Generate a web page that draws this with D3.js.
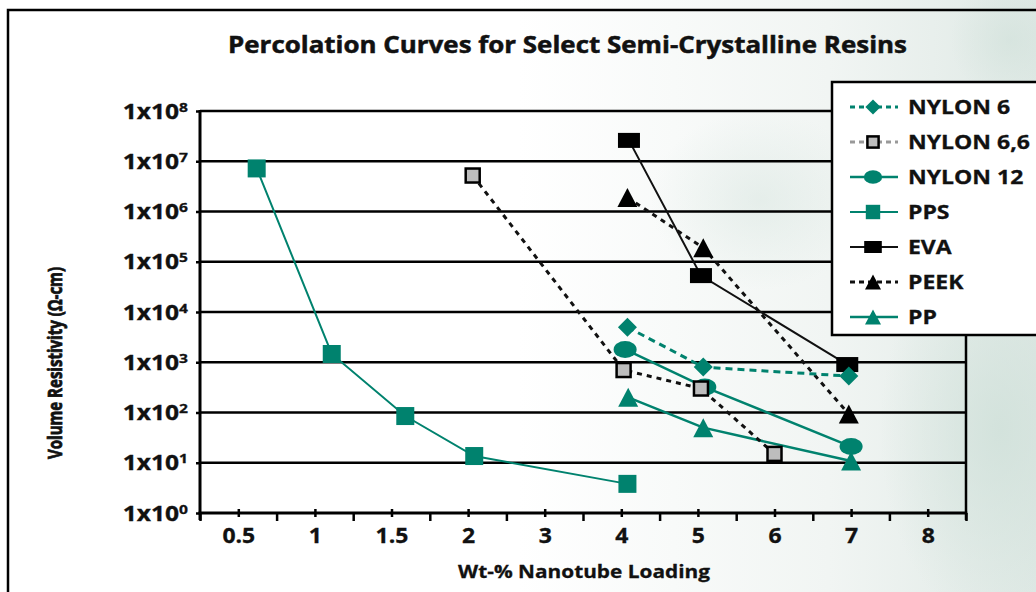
<!DOCTYPE html>
<html><head><meta charset="utf-8">
<script src="https://cdn.jsdelivr.net/npm/d3@7"></script>
<style>html,body{margin:0;padding:0;background:#fff;} svg{display:block;} text{font-family:"Open Sans",sans-serif;font-weight:700;fill:#111;}</style>
</head><body>
<svg id="chart" width="1036" height="592"></svg>
<script>
// ---------- DATA ----------
const titleText = "Percolation Curves for Select Semi-Crystalline Resins";
const xAxisTitle = "Wt-% Nanotube Loading";
const yAxisTitle = "Volume Resistivity (\u03A9-cm)";
const xTickValues = [0.5, 1, 1.5, 2, 3, 4, 5, 6, 7, 8];
const xTickLabels = ["0.5", "1", "1.5", "2", "3", "4", "5", "6", "7", "8"];
const yTickExponents = [0, 1, 2, 3, 4, 5, 6, 7, 8];

const seriesNames = ["NYLON 6", "NYLON 6,6", "NYLON 12", "PPS", "EVA", "PEEK", "PP"];

const nylon6X = [4.08, 5.07, 6.97];
const nylon6Y = [5000, 800, 530];
const nylon66X = [2.06, 4.03, 5.04, 6.0];
const nylon66Y = [5.2e6, 700, 300, 15];
const nylon12X = [4.05, 5.09, 7.0];
const nylon12Y = [1800, 320, 21];
const ppsX = [0.62, 1.11, 1.59, 2.08, 4.08];
const ppsY = [7.2e6, 1460, 85, 13.6, 3.8];
const evaX = [4.1, 5.04, 6.95];
const evaY = [2.6e7, 5.3e4, 900];
const peekX = [4.08, 5.07, 6.97];
const peekY = [1.9e6, 1.9e5, 93];
const ppX = [4.09, 5.07, 7.0];
const ppY = [200, 50, 10.8];

// ---------- STYLE ----------
const TEAL = "#00826e";
const styles = {
  "NYLON 6":   {color: TEAL, width: 3, dash: "7,5", marker: "diamond", mColor: TEAL, legLine: TEAL},
  "NYLON 6,6": {color: "#111", width: 3, dash: "5,5", marker: "graySquare", mColor: "#bdbdbd", legLine: "#999"},
  "NYLON 12":  {color: TEAL, width: 2.5, dash: null, marker: "ellipse", mColor: TEAL, legLine: TEAL},
  "PPS":       {color: TEAL, width: 2, dash: null, marker: "square", mColor: TEAL, legLine: TEAL},
  "EVA":       {color: "#111", width: 2, dash: null, marker: "rect", mColor: "#000", legLine: "#111"},
  "PEEK":      {color: "#111", width: 3, dash: "5,5", marker: "triangle", mColor: "#000", legLine: "#111"},
  "PP":        {color: TEAL, width: 2.5, dash: null, marker: "triangle", mColor: TEAL, legLine: TEAL}
};
const seriesData = {
  "NYLON 6": [nylon6X, nylon6Y], "NYLON 6,6": [nylon66X, nylon66Y], "NYLON 12": [nylon12X, nylon12Y],
  "PPS": [ppsX, ppsY], "EVA": [evaX, evaY], "PEEK": [peekX, peekY], "PP": [ppX, ppY]
};
const drawOrder = ["PEEK", "EVA", "PP", "PPS", "NYLON 12", "NYLON 6", "NYLON 6,6"];

const W = 1036, H = 592;
const x0 = 200, x1 = 966, yTop = 111, yBot = 513;
const step = (x1 - x0) / xTickValues.length;

const svg = d3.select("#chart");

// background
const defs = svg.append("defs");
const lg = defs.append("linearGradient").attr("id", "bgGrad").attr("x1", "0").attr("x2", "1").attr("y1", "0").attr("y2", "0");
lg.append("stop").attr("offset", "0").attr("stop-color", "#ffffff");
lg.append("stop").attr("offset", "0.5").attr("stop-color", "#ffffff");
lg.append("stop").attr("offset", "0.8").attr("stop-color", "#f1f5f3");
lg.append("stop").attr("offset", "1").attr("stop-color", "#dfe9e5");
const rg = defs.append("radialGradient").attr("id", "blob");
rg.append("stop").attr("offset", "0").attr("stop-color", "#cfe0d9").attr("stop-opacity", 0.8);
rg.append("stop").attr("offset", "1").attr("stop-color", "#cfe0d9").attr("stop-opacity", 0);
svg.append("rect").attr("width", W).attr("height", H).attr("fill", "url(#bgGrad)");
svg.append("ellipse").attr("cx", 1000).attr("cy", 430).attr("rx", 120).attr("ry", 200).attr("fill", "url(#blob)");
svg.append("ellipse").attr("cx", 760).attr("cy", 200).attr("rx", 110).attr("ry", 90).attr("fill", "url(#blob)").attr("opacity", 0.5);
svg.append("ellipse").attr("cx", 1010).attr("cy", 40).attr("rx", 60).attr("ry", 60).attr("fill", "url(#blob)").attr("opacity", 0.7);

// frame
svg.append("path").attr("d", `M8,${H} L8,10 L${W},10`).attr("fill", "none").attr("stroke", "#000").attr("stroke-width", 2.5);

// scales
const x = d3.scaleLinear().domain(xTickValues).range(xTickValues.map((d, i) => x0 + (i + 0.5) * step));
const y = d3.scaleLog().domain([1, 1e8]).range([yBot, yTop]);

// helper: stretched text
function stretchText(sel, target) {
  const len = sel.node().getComputedTextLength();
  const sx = target / len;
  sel.attr("transform", `scale(${sx},1)`);
  return sx;
}

// title
const tg = svg.append("g").attr("transform", "translate(567.5,53)");
const tt = tg.append("text").attr("text-anchor", "middle").attr("font-size", 23)
  .attr("stroke", "#111").attr("stroke-width", 0.5).text(titleText);
stretchText(tt, 679);

// gridlines
const grid = svg.append("g");
grid.selectAll("line").data(yTickExponents.filter(e => e > 0)).join("line")
  .attr("x1", x0).attr("x2", x1)
  .attr("y1", e => y(Math.pow(10, e))).attr("y2", e => y(Math.pow(10, e)))
  .attr("stroke", "#000").attr("stroke-width", 2.5);

// right border
svg.append("line").attr("x1", x1).attr("x2", x1).attr("y1", yTop).attr("y2", yBot + 7).attr("stroke", "#000").attr("stroke-width", 2.5);

// x axis
const xAxisG = svg.append("g").attr("transform", `translate(0,${yBot})`);
const boundaries = [0.25, 0.75, 1.25, 1.75, 2.5, 3.5, 4.5, 5.5, 6.5, 7.5, 8.5];
xAxisG.call(d3.axisBottom(x).tickValues(boundaries).tickFormat("").tickSize(8).tickSizeOuter(0));
xAxisG.select(".domain").remove();
xAxisG.selectAll("line").attr("stroke", "#000").attr("stroke-width", 2.5);
const xMajorG = svg.append("g").attr("transform", `translate(0,${yBot})`);
xMajorG.call(d3.axisBottom(x).tickValues(xTickValues).tickFormat((d, i) => xTickLabels[i]).tickSize(4).tickSizeOuter(0));
xMajorG.select(".domain").remove();
xMajorG.selectAll(".tick line").attr("y1", -4).attr("y2", 4).attr("stroke", "#000").attr("stroke-width", 2.5);
xMajorG.selectAll(".tick text").attr("y", 30).attr("dy", 0).attr("font-size", 20.5)
  .attr("font-family", "'Open Sans',sans-serif").attr("font-weight", 700).attr("fill", "#111")
  .attr("stroke", "#111").attr("stroke-width", 0.3)
  .attr("transform", "scale(1.12,1)");
svg.append("line").attr("x1", x0 - 1.5).attr("x2", x1 + 1.2).attr("y1", yBot).attr("y2", yBot).attr("stroke", "#000").attr("stroke-width", 3);

// y axis
const yAxisG = svg.append("g").attr("transform", `translate(${x0},0)`);
yAxisG.call(d3.axisLeft(y).tickValues(yTickExponents.map(e => Math.pow(10, e))).tickFormat("").tickSize(4).tickSizeOuter(0));
yAxisG.select(".domain").remove();
yAxisG.selectAll(".tick line").attr("stroke", "#000").attr("stroke-width", 2.5);
const ySx = 1.2;
yAxisG.selectAll(".tick").each(function(d) {
  const e = Math.round(Math.log10(d));
  const t = d3.select(this).append("text").attr("text-anchor", "end").attr("x", -12 / ySx).attr("y", 7)
    .attr("font-size", 20.5).attr("stroke", "#111").attr("stroke-width", 0.3)
    .attr("transform", `scale(${ySx},1)`);
  t.append("tspan").text("1x10");
  t.append("tspan").attr("dy", -7).attr("font-size", 13).text(e);
});
svg.append("line").attr("x1", x0).attr("x2", x0).attr("y1", yTop - 1).attr("y2", yBot + 7).attr("stroke", "#000").attr("stroke-width", 3);

// axis titles
const xtg = svg.append("g").attr("transform", "translate(584,578)");
stretchText(xtg.append("text").attr("text-anchor", "middle").attr("font-size", 18.5)
  .attr("stroke", "#111").attr("stroke-width", 0.3).text(xAxisTitle), 252);
const ytg = svg.append("g").attr("transform", "translate(62,363) rotate(-90)");
stretchText(ytg.append("text").attr("text-anchor", "middle").attr("font-size", 20)
  .attr("stroke", "#111").attr("stroke-width", 0.8).text(yAxisTitle), 192);

// markers
function marker(g, type, fill, s) {
  s = s || 1;
  if (type === "diamond") {
    g.append("path").attr("d", `M0,${-9.5*s} L${9.5*s},0 L0,${9.5*s} L${-9.5*s},0Z`).attr("fill", fill);
  } else if (type === "graySquare") {
    g.append("rect").attr("x", -7*s).attr("y", -7*s).attr("width", 14*s).attr("height", 14*s)
      .attr("fill", fill).attr("stroke", "#000").attr("stroke-width", 2.5);
  } else if (type === "ellipse") {
    g.append("ellipse").attr("rx", 11.5*s).attr("ry", 8.5*s).attr("fill", fill);
  } else if (type === "square") {
    g.append("rect").attr("x", -9*s).attr("y", -9*s).attr("width", 18*s).attr("height", 18*s).attr("fill", fill);
  } else if (type === "rect") {
    g.append("rect").attr("x", -11*s).attr("y", -7.5*s).attr("width", 22*s).attr("height", 15*s).attr("fill", fill);
  } else if (type === "triangle") {
    g.append("path").attr("d", `M0,${-9.5*s} L${10*s},${9.5*s} L${-10*s},${9.5*s}Z`).attr("fill", fill);
  }
}

// lines
const lineGen = d3.line().x(d => x(d[0])).y(d => y(d[1])).curve(d3.curveLinear);
const linesG = svg.append("g");
const marksG = svg.append("g");
drawOrder.forEach(name => {
  const st = styles[name];
  const [xs, ys] = seriesData[name];
  const pts = xs.map((v, i) => [v, ys[i]]);
  linesG.append("path").datum(pts).attr("d", lineGen).attr("fill", "none")
    .attr("stroke", st.color).attr("stroke-width", st.width)
    .attr("stroke-dasharray", st.dash);
});
drawOrder.forEach(name => {
  const st = styles[name];
  const [xs, ys] = seriesData[name];
  xs.forEach((v, i) => {
    const g = marksG.append("g").attr("transform", `translate(${x(v)},${y(ys[i])})`);
    marker(g, st.marker, st.mColor, 1);
  });
});

// legend
const legG = svg.append("g").attr("transform", "translate(832,82)");
legG.append("rect").attr("x", 0).attr("y", 0).attr("width", 240).attr("height", 253)
  .attr("fill", "#fff").attr("stroke", "#000").attr("stroke-width", 2.5);
seriesNames.forEach((name, i) => {
  const st = styles[name];
  const row = legG.append("g").attr("transform", `translate(0,${25 + i * 35})`);
  row.append("line").attr("x1", 18).attr("x2", 66).attr("y1", 0).attr("y2", 0)
    .attr("stroke", st.legLine).attr("stroke-width", st.width)
    .attr("stroke-dasharray", st.dash ? "5,4" : null);
  const mg = row.append("g").attr("transform", "translate(41,0)");
  marker(mg, st.marker, st.mColor, 0.8);
  row.append("text").attr("x", 76 / 1.18).attr("y", 7).attr("font-size", 19.5)
    .attr("stroke", "#111").attr("stroke-width", 0.3)
    .attr("transform", "scale(1.18,1)").text(name);
});
</script>
</body></html>
